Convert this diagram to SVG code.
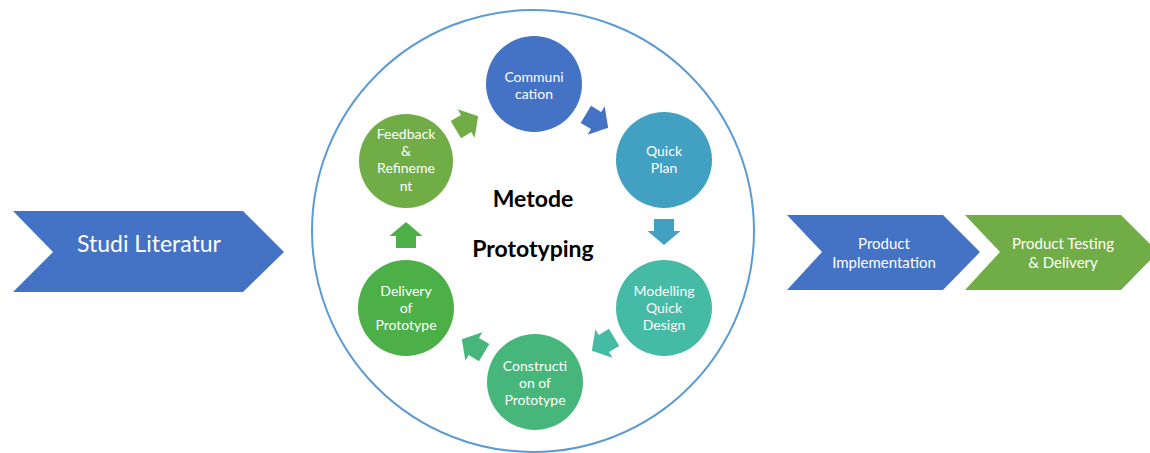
<svg xmlns="http://www.w3.org/2000/svg" width="1150" height="453" viewBox="0 0 1150 453">
  <style>
    .lbl { font-family: Lato, "Open Sans", "Liberation Sans", sans-serif; fill: #ffffff; text-anchor: middle; dominant-baseline: central; }
    .node { font-size: 14px; }
    .chev { font-size: 15px; }
    .title { font-family: Lato, "Open Sans", "Liberation Sans", sans-serif; font-weight: bold; font-size: 23px; fill: #000000; text-anchor: middle; dominant-baseline: central; }
  </style>
  <defs>
    <!-- block arrow pointing along +x, centred on the origin -->
    <path id="blk" d="M-13,-10 H-1 V-16.5 L13,0 L-1,16.5 V10 H-13 Z"/>
  </defs>

  <rect width="1150" height="453" fill="#ffffff"/>

  <!-- outer ring -->
  <g id="ring">
    <circle cx="533" cy="231" r="221" fill="none" stroke="#5B9BD5" stroke-width="2"/>
    <text class="title" x="533" y="198">Metode</text>
    <text class="title" x="533" y="248">Prototyping</text>
  </g>

  <g id="studi-literatur">
    <polygon points="13,211 243,211 284,252 243,292 13,292 53,252" fill="#4472C4"/>
    <text class="lbl" x="149" y="243" font-size="23">Studi Literatur</text>
  </g>

  <g id="product-implementation">
    <polygon points="787,215 943,215 980,252 943,290 787,290 822,252" fill="#4472C4"/>
    <text class="lbl chev" x="884" y="243">Product</text>
    <text class="lbl chev" x="884" y="262">Implementation</text>
  </g>

  <g id="product-testing">
    <polygon points="965,215 1121,215 1158,252 1121,290 965,290 1000,252" fill="#70AD47"/>
    <text class="lbl chev" x="1063" y="243">Product Testing</text>
    <text class="lbl chev" x="1063" y="262">&amp; Delivery</text>
  </g>

  <g id="communication">
    <circle cx="534" cy="84" r="48" fill="#4472C4"/>
    <text class="lbl node" x="534" y="76">Communi</text>
    <text class="lbl node" x="534" y="93">cation</text>
  </g>

  <g id="quick-plan">
    <circle cx="664" cy="160" r="48" fill="#42A1C2"/>
    <text class="lbl node" x="664" y="150">Quick</text>
    <text class="lbl node" x="664" y="167">Plan</text>
  </g>

  <g id="modelling-quick-design">
    <circle cx="664" cy="308" r="48" fill="#45BBA6"/>
    <text class="lbl node" x="664" y="290">Modelling</text>
    <text class="lbl node" x="664" y="307">Quick</text>
    <text class="lbl node" x="664" y="324">Design</text>
  </g>

  <g id="construction-of-prototype">
    <circle cx="535" cy="382" r="48" fill="#47B67B"/>
    <text class="lbl node" x="535" y="365">Constructi</text>
    <text class="lbl node" x="535" y="382">on of</text>
    <text class="lbl node" x="535" y="399">Prototype</text>
  </g>

  <g id="delivery-of-prototype">
    <circle cx="406" cy="308" r="48" fill="#4CAF48"/>
    <text class="lbl node" x="406" y="290">Delivery</text>
    <text class="lbl node" x="406" y="307">of</text>
    <text class="lbl node" x="406" y="324">Prototype</text>
  </g>

  <g id="feedback-refinement">
    <circle cx="406" cy="161" r="47" fill="#70AD47"/>
    <text class="lbl node" x="406" y="133">Feedback</text>
    <text class="lbl node" x="406" y="150">&amp;</text>
    <text class="lbl node" x="406" y="167">Refineme</text>
    <text class="lbl node" x="406" y="185">nt</text>
  </g>

  <!-- cycle arrows -->
  <g id="connectors">
    <use href="#blk" fill="#70AD47" transform="translate(467,123) rotate(-31)"/>
    <use href="#blk" fill="#4472C4" transform="translate(597,121) rotate(31)"/>
    <use href="#blk" fill="#42A1C2" transform="translate(664,232) rotate(90)"/>
    <use href="#blk" fill="#45BBA6" transform="translate(603,344) rotate(149)"/>
    <use href="#blk" fill="#47B67B" transform="translate(473,346) rotate(-149)"/>
    <use href="#blk" fill="#4CAF48" transform="translate(406,235) rotate(-90)"/>
  </g>
</svg>
